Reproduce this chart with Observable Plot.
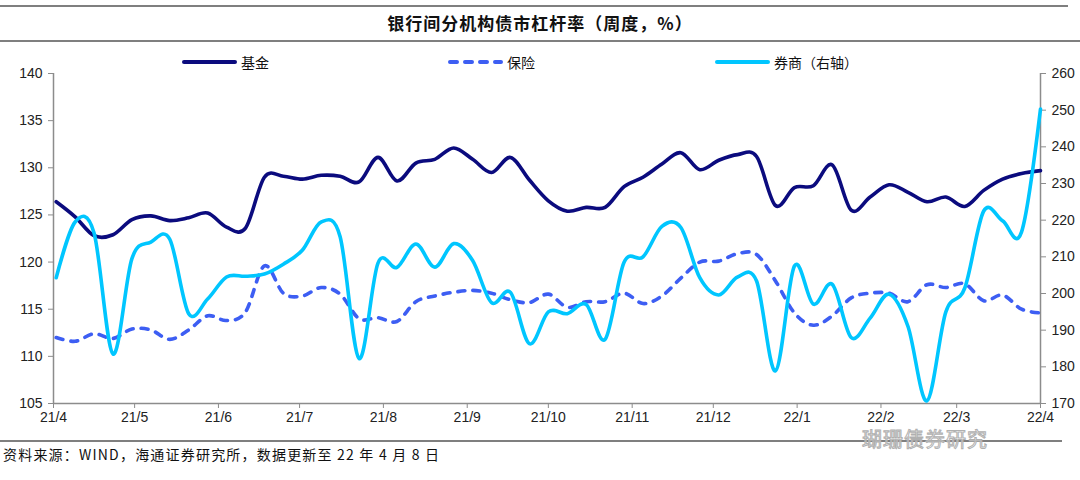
<!DOCTYPE html>
<html>
<head>
<meta charset="utf-8">
<script src="https://cdn.jsdelivr.net/npm/d3@7"></script>
<script src="https://cdn.jsdelivr.net/npm/@observablehq/plot@0.6"></script>
<style>
  html, body { margin: 0; padding: 0; background: #fff; }
  body { width: 1080px; height: 480px; position: relative; overflow: hidden; font-family: "Noto Sans CJK SC", "Liberation Sans", sans-serif; }
  .hline { position: absolute; left: 0; background: #7f7f7f; }
  #title { position: absolute; left: 0; top: 10px; width: 1080px; text-align: center; font-weight: bold; font-size: 17px; color: #111; line-height: 26px; letter-spacing: 1px; }
  #chart { position: absolute; left: 0; top: 45px; }
  #legend { position: absolute; left: 0; top: 52px; width: 1080px; height: 20px; z-index: 2; }
  .item { position: absolute; top: 0; height: 20px; display: flex; align-items: center; font-size: 14px; color: #111; }
  .item svg { margin-right: 4px; }
  #source { position: absolute; left: 3px; top: 444px; font-size: 14px; color: #111; letter-spacing: 1.2px; }
  #wm { position: absolute; left: 862px; top: 428px; font-size: 20px; line-height: 22px; color: rgba(255,255,255,0.55); -webkit-text-stroke: 1px #b0b0b0; z-index: 3; letter-spacing: 1px; }
</style>
</head>
<body>
<div class="hline" style="top:5px;width:1068px;height:2px"></div>
<div id="title">银行间分机构债市杠杆率（周度，%）</div>
<div class="hline" style="top:40px;width:1080px;height:2px"></div>
<div id="chart"></div>
<div id="legend"></div>
<div class="hline" style="top:440px;width:1062px;height:2px"></div>
<div id="source">资料来源：WIND，海通证券研究所，数据更新至 22 年 4 月 8 日</div>
<div id="wm">瑚珊债券研究</div>
<script>
// ---- data (weekly, Fridays from 2021-04-09 to 2022-04-08) ----
const weekCount = 53;
const firstWeek = Date.UTC(2021, 3, 9);
const dates = d3.range(weekCount).map(i => new Date(firstWeek + i * 7 * 864e5));

const fund = [126.4, 124.8, 122.8, 122.9, 124.5, 124.9, 124.4, 124.7, 125.2, 123.7,
  123.6, 129.0, 129.1, 128.8, 129.2, 129.1, 128.5, 131.1, 128.6, 130.5,
  130.9, 132.1, 130.9, 129.5, 131.1, 128.7, 126.5, 125.4, 125.8, 125.8,
  128.0, 129.0, 130.4, 131.6, 129.8, 130.8, 131.4, 131.2, 126.0, 127.9,
  128.1, 130.3, 125.5, 126.9, 128.2, 127.4, 126.4, 126.9, 125.9, 127.6,
  128.8, 129.4, 129.7];

const insurance = [112.0, 111.6, 112.4, 111.9, 112.9, 112.8, 111.8, 112.8, 114.3, 113.8,
  114.7, 119.6, 116.7, 116.4, 117.3, 116.6, 114.0, 114.1, 113.7, 115.8,
  116.4, 116.8, 117.0, 116.7, 116.0, 115.7, 116.6, 115.2, 115.8, 115.8,
  116.7, 115.6, 116.4, 118.3, 120.0, 120.1, 120.9, 120.8, 118.0, 114.6,
  113.3, 114.3, 116.2, 116.7, 116.7, 115.8, 117.6, 117.3, 117.7, 115.9,
  116.5, 115.0, 114.6];

const broker = [204.3, 219.5, 216.5, 183.5, 209.5, 214.0, 214.8, 194.5, 198.5, 204.5,
  204.7, 205.3, 208.0, 211.8, 219.5, 215.5, 182.3, 208.3, 207.1, 213.5,
  207.2, 213.6, 209.0, 197.5, 200.3, 186.3, 195.0, 194.5, 197.0, 187.5,
  208.5, 210.0, 218.3, 218.0, 204.3, 199.6, 204.5, 203.4, 178.9, 207.5,
  197.1, 202.5, 188.0, 193.3, 199.8, 191.0, 170.7, 195.0, 201.5, 222.5,
  219.8, 216.8, 250.3];

const seriesNames = ["基金", "保险", "券商（右轴）"];
const seriesColors = ["#0b0b7e", "#3d5ef3", "#00c6ff"];

const leftTicks = [105, 110, 115, 120, 125, 130, 135, 140];
const rightTicks = [170, 180, 190, 200, 210, 220, 230, 240, 250, 260];
const xTickLabels = ["21/4", "21/5", "21/6", "21/7", "21/8", "21/9", "21/10", "21/11", "21/12", "22/1", "22/2", "22/3", "22/4"];
const xTickDates = xTickLabels.map(s => { const [y, m] = s.split("/").map(Number); return new Date(Date.UTC(2000 + y, m - 1, 8)); });

// ---- dual axis mapping ----
const L0 = leftTicks[0], L1 = leftTicks[leftTicks.length - 1];
const R0 = rightTicks[0], R1 = rightTicks[rightTicks.length - 1];
const toLeft = v => L0 + (v - R0) * (L1 - L0) / (R1 - R0);

const rows = [];
dates.forEach((d, i) => {
  rows.push({date: d, s: seriesNames[0], v: fund[i]});
  rows.push({date: d, s: seriesNames[1], v: insurance[i]});
  rows.push({date: d, s: seriesNames[2], v: toLeft(broker[i])});
});

const xStart = xTickDates[0], xEnd = xTickDates[xTickDates.length - 1];
const axisColor = "#8c8c8c";

const chart = Plot.plot({
  width: 1080,
  height: 395,
  marginTop: 28,
  marginBottom: 37,
  marginLeft: 53,
  marginRight: 40,
  style: {fontFamily: "'Liberation Sans', Arial, sans-serif", fontSize: "14px", color: "#222", background: "transparent"},
  x: {type: "utc", domain: [xStart, xEnd]},
  y: {domain: [L0, L1]},
  marks: [
    Plot.ruleX([xStart], {stroke: axisColor, strokeWidth: 1.5}),
    Plot.ruleX([xEnd], {stroke: axisColor, strokeWidth: 1.5}),
    Plot.ruleY([L0], {stroke: axisColor, strokeWidth: 1.5}),
    Plot.axisY(leftTicks, {anchor: "left", tickSize: 5, tickPadding: 6, stroke: axisColor, fill: "#222", label: null, tickFormat: d => String(d)}),
    Plot.axisY(rightTicks.map(toLeft), {anchor: "right", tickSize: 5, tickPadding: 6, stroke: axisColor, fill: "#222", label: null,
      tickFormat: d => String(rightTicks[rightTicks.map(toLeft).findIndex(t => Math.abs(t - d) < 1e-6)])}),
    Plot.axisX(xTickDates, {anchor: "bottom", tickSize: 5, tickPadding: 4, stroke: axisColor, fill: "#222", label: null,
      tickFormat: d => xTickLabels[xTickDates.findIndex(t => +t === +d)]}),
    Plot.line(rows.filter(r => r.s === seriesNames[0]), {x: "date", y: "v", stroke: seriesColors[0], strokeWidth: 3.6, curve: "cardinal"}),
    Plot.line(rows.filter(r => r.s === seriesNames[1]), {x: "date", y: "v", stroke: seriesColors[1], strokeWidth: 3.6, curve: "cardinal", strokeDasharray: "7,8", strokeLinecap: "round"}),
    Plot.line(rows.filter(r => r.s === seriesNames[2]), {x: "date", y: "v", stroke: seriesColors[2], strokeWidth: 3.6, curve: "cardinal"})
  ]
});
document.getElementById("chart").appendChild(chart);

// ---- legend ----
const legendPos = [182, 448, 715];
const legend = document.getElementById("legend");
seriesNames.forEach((name, i) => {
  const it = document.createElement("div");
  it.className = "item";
  it.style.left = legendPos[i] + "px";
  const dash = i === 1 ? ' stroke-dasharray="7,8"' : '';
  it.innerHTML = `<svg width="55" height="10"><line x1="2" y1="5" x2="53" y2="5" stroke="${seriesColors[i]}" stroke-width="4" stroke-linecap="round"${dash}/></svg><span>${name}</span>`;
  legend.appendChild(it);
});
</script>
</body>
</html>
